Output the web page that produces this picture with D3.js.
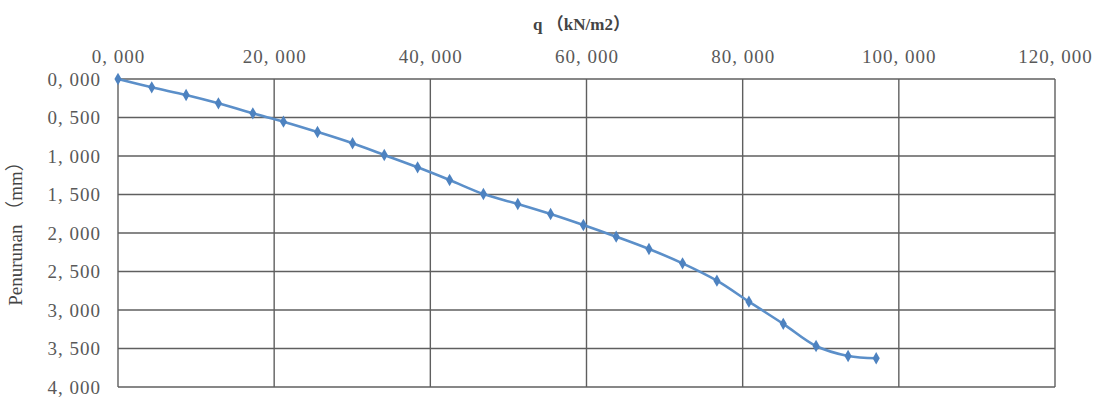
<!DOCTYPE html>
<html>
<head>
<meta charset="utf-8">
<script src="https://cdn.jsdelivr.net/npm/d3@7"></script>
<style>
  html, body { margin: 0; padding: 0; background: #fff; }
  svg { display: block; }
</style>
</head>
<body>
<svg id="chart" width="1102" height="403"></svg>
<script>
// Load q (kN/m2) and settlement (mm) readings
const loadQ = [0, 4.32, 8.72, 12.86, 17.27, 21.19, 25.55, 30.04, 34.1, 38.37, 42.47,
  46.8, 51.2, 55.4, 59.6, 63.8, 68.0, 72.3, 76.7, 80.8, 85.2, 89.4, 93.5, 97.1];
const settlement = [0, 0.108, 0.208, 0.316, 0.446, 0.554, 0.688, 0.835, 0.987, 1.147, 1.312,
  1.494, 1.623, 1.753, 1.896, 2.048, 2.208, 2.394, 2.619, 2.892, 3.18, 3.468, 3.597, 3.627];
const xTicks = [0, 20, 40, 60, 80, 100, 120];
const yTicks = [0, 0.5, 1, 1.5, 2, 2.5, 3, 3.5, 4];
const xTitle = "q （kN/m2）";
const yTitle = "Penurunan （mm）";

const margin = { left: 118, top: 79, right: 1055, bottom: 387 };
const svg = d3.select("#chart");

const x = d3.scaleLinear().domain([0, 120]).range([margin.left, margin.right]);
const y = d3.scaleLinear().domain([0, 4]).range([margin.top, margin.bottom]);

// "1, 500" style: comma as decimal separator followed by a space
const fmt = v => d3.format(".3f")(v).replace(".", ", ");
const textFont = "'Liberation Serif', 'Noto Sans CJK SC', serif";
const gridColor = "#5f5f5f";
const labelColor = "#595959";

// Grid
const grid = svg.append("g");
grid.selectAll("line.h").data(yTicks).join("line")
  .attr("x1", margin.left).attr("x2", margin.right)
  .attr("y1", d => y(d)).attr("y2", d => y(d))
  .attr("stroke", gridColor).attr("stroke-width", 1.4);
grid.selectAll("line.v").data(xTicks).join("line")
  .attr("y1", margin.top).attr("y2", margin.bottom)
  .attr("x1", d => x(d)).attr("x2", d => x(d))
  .attr("stroke", gridColor).attr("stroke-width", 1.4);

// Top axis labels (load in thousands)
const gx = svg.append("g").attr("transform", `translate(0,${margin.top})`)
  .call(d3.axisTop(x).tickValues(xTicks).tickSize(0).tickPadding(16)
    .tickFormat(d => d + ", 000"));
gx.select(".domain").remove();
gx.selectAll("text").attr("font-family", textFont).attr("font-size", 19)
  .attr("letter-spacing", 1).attr("fill", labelColor);

// Left axis labels
const gy = svg.append("g").attr("transform", `translate(${margin.left},0)`)
  .call(d3.axisLeft(y).tickValues(yTicks).tickSize(0).tickPadding(17).tickFormat(fmt));
gy.select(".domain").remove();
gy.selectAll("text").attr("font-family", textFont).attr("font-size", 19)
  .attr("letter-spacing", 1).attr("fill", labelColor);

// Axis titles
svg.append("text")
  .attr("x", (margin.left + margin.right) / 2 - 5).attr("y", 30)
  .attr("text-anchor", "middle")
  .attr("font-family", textFont).attr("font-size", 17).attr("font-weight", "bold")
  .attr("fill", "#444").text(xTitle);
svg.append("text")
  .attr("transform", `translate(22,229) rotate(-90)`)
  .attr("text-anchor", "middle")
  .attr("font-family", textFont).attr("font-size", 19)
  .attr("fill", "#444").text(yTitle);

// Curve and markers
const pts = loadQ.map((q, i) => [q, settlement[i]]);
const line = d3.line().x(d => x(d[0])).y(d => y(d[1])).curve(d3.curveCatmullRom.alpha(0.5));
svg.append("path").datum(pts).attr("d", line)
  .attr("fill", "none").attr("stroke", "#5b8fc9").attr("stroke-width", 2.6);
svg.append("g").selectAll("path").data(pts).join("path")
  .attr("transform", d => `translate(${x(d[0])},${y(d[1])})`)
  .attr("d", d3.symbol(d3.symbolDiamond, 44)())
  .attr("fill", "#4d82c0");
</script>
</body>
</html>
